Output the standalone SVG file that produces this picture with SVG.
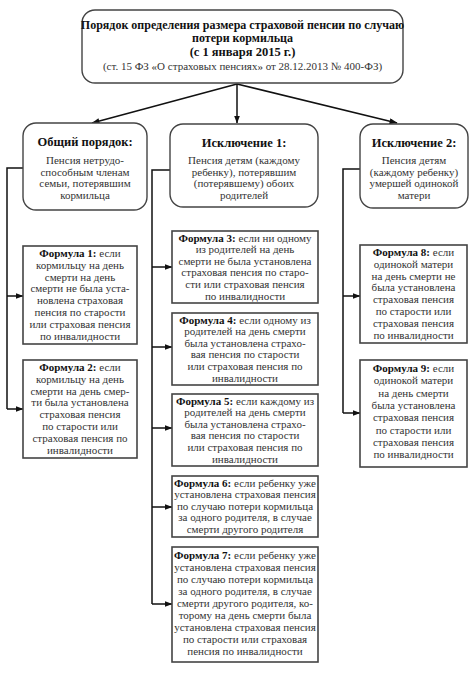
<svg xmlns="http://www.w3.org/2000/svg" width="474" height="673" viewBox="0 0 474 673">
<style>
text{font-family:"Liberation Serif","DejaVu Serif",serif;font-size:11px;fill:#333;text-anchor:middle}
.b{font-weight:bold;fill:#111}
.h{font-size:12.5px}
.rbox{fill:#fff;stroke:#444;stroke-width:1.4}
.box{fill:#fff;stroke:#444;stroke-width:1.6}
.ln{fill:none;stroke:#111;stroke-width:1.5}
</style>
<defs>
<marker id="ar" viewBox="0 0 8 6" refX="7.5" refY="3" markerWidth="8" markerHeight="6" markerUnits="userSpaceOnUse" orient="auto">
<path d="M0,0 L8,3 L0,6 Z" fill="#111"/>
</marker>
</defs>
<rect width="474" height="673" fill="#fff"/>
<g id="connectors">
<path class="ln" d="M237,84 L92,123" marker-end="url(#ar)"/>
<path class="ln" d="M237,84 L237,123" marker-end="url(#ar)"/>
<path class="ln" d="M237,84 L397,123" marker-end="url(#ar)"/>
<path class="ln" d="M23,168 H7 V409"/>
<path class="ln" d="M7,296 H23" marker-end="url(#ar)"/>
<path class="ln" d="M7,409 H23" marker-end="url(#ar)"/>
<path class="ln" d="M170,170 H152 V604"/>
<path class="ln" d="M152,267 H172" marker-end="url(#ar)"/>
<path class="ln" d="M152,347 H172" marker-end="url(#ar)"/>
<path class="ln" d="M152,428 H172" marker-end="url(#ar)"/>
<path class="ln" d="M152,507 H172" marker-end="url(#ar)"/>
<path class="ln" d="M152,604 H172" marker-end="url(#ar)"/>
<path class="ln" d="M360,169 H343 V413"/>
<path class="ln" d="M343,296 H360" marker-end="url(#ar)"/>
<path class="ln" d="M343,413 H360" marker-end="url(#ar)"/>
</g>
<g id="title">
<rect class="rbox" x="82" y="10" width="321" height="73" rx="13"/>
<text class="b" x="242.5" y="28.5" style="font-size:12px">Порядок определения размера страховой пенсии по случаю</text>
<text class="b" x="242.5" y="41.5" style="font-size:12px">потери кормильца</text>
<text class="b" x="242.5" y="55.5" style="font-size:12.5px">(с 1 января 2015 г.)</text>
<text x="242.5" y="70">(ст. 15 ФЗ «О страховых пенсиях» от 28.12.2013 № 400-ФЗ)</text>
</g>
<g id="general">
<rect class="rbox" x="23" y="123" width="124" height="87" rx="13"/>
<text class="b h" x="85" y="146">Общий порядок:</text>
<text x="85" y="164">Пенсия нетрудо-</text>
<text x="85" y="175.5">способным членам</text>
<text x="85" y="187">семьи, потерявшим</text>
<text x="85" y="198.5">кормильца</text>
</g>
<g id="exception1">
<rect class="rbox" x="170" y="124" width="148" height="83" rx="13"/>
<text class="b h" x="244" y="147">Исключение 1:</text>
<text x="244" y="164">Пенсия детям (каждому</text>
<text x="244" y="175.5">ребенку), потерявшим</text>
<text x="244" y="187">(потерявшему) обоих</text>
<text x="244" y="198.5">родителей</text>
</g>
<g id="exception2">
<rect class="rbox" x="360" y="124" width="108" height="84" rx="13"/>
<text class="b h" x="414" y="147">Исключение 2:</text>
<text x="414" y="164">Пенсия детям</text>
<text x="414" y="175.5">(каждому ребенку)</text>
<text x="414" y="187">умершей одинокой</text>
<text x="414" y="198.5">матери</text>
</g>
<g id="formula1">
<rect class="box" x="23" y="246" width="114" height="98"/>
<text x="80" y="257"><tspan class="b">Формула 1:</tspan> если</text>
<text x="80" y="268.8">кормильцу на день</text>
<text x="80" y="280.6">смерти на день</text>
<text x="80" y="292.4">смерти не была уста-</text>
<text x="80" y="304.2">новлена страховая</text>
<text x="80" y="316">пенсия по старости</text>
<text x="80" y="327.8">или страховая пенсия</text>
<text x="80" y="339.6">по инвалидности</text>
</g>
<g id="formula2">
<rect class="box" x="23" y="360" width="114" height="98"/>
<text x="80" y="371"><tspan class="b">Формула 2:</tspan> если</text>
<text x="80" y="382.8">кормильцу на день</text>
<text x="80" y="394.6">смерти на день смер-</text>
<text x="80" y="406.4">ти была установлена</text>
<text x="80" y="418.2">страховая пенсия</text>
<text x="80" y="430">по старости или</text>
<text x="80" y="441.8">страховая пенсия по</text>
<text x="80" y="453.6">инвалидности</text>
</g>
<g id="formula3">
<rect class="box" x="172" y="231" width="146" height="72"/>
<text x="245" y="241.5"><tspan class="b">Формула 3:</tspan> если ни одному</text>
<text x="245" y="253.1">из родителей на день</text>
<text x="245" y="264.7">смерти не была установлена</text>
<text x="245" y="276.3">страховая пенсия по старо-</text>
<text x="245" y="287.9">сти или страховая пенсия</text>
<text x="245" y="299.5">по инвалидности</text>
</g>
<g id="formula4">
<rect class="box" x="172" y="313" width="146" height="72"/>
<text x="245" y="323.5"><tspan class="b">Формула 4:</tspan> если одному из</text>
<text x="245" y="335.1">родителей на день смерти</text>
<text x="245" y="346.7">была установлена страхо-</text>
<text x="245" y="358.3">вая пенсия по старости</text>
<text x="245" y="369.9">или страховая пенсия по</text>
<text x="245" y="381.5">инвалидности</text>
</g>
<g id="formula5">
<rect class="box" x="172" y="394" width="146" height="72"/>
<text x="245" y="404.5"><tspan class="b">Формула 5:</tspan> если каждому из</text>
<text x="245" y="416.1">родителей на день смерти</text>
<text x="245" y="427.7">была установлена страхо-</text>
<text x="245" y="439.3">вая пенсия по старости</text>
<text x="245" y="450.9">или страховая пенсия по</text>
<text x="245" y="462.5">инвалидности</text>
</g>
<g id="formula6">
<rect class="box" x="172" y="476" width="146" height="61"/>
<text x="245" y="486.5"><tspan class="b">Формула 6:</tspan> если ребенку уже</text>
<text x="245" y="498.1">установлена страховая пенсия</text>
<text x="245" y="509.7">по случаю потери кормильца</text>
<text x="245" y="521.3">за одного родителя, в случае</text>
<text x="245" y="532.9">смерти другого родителя</text>
</g>
<g id="formula7">
<rect class="box" x="172" y="547" width="146" height="115"/>
<text x="245" y="559"><tspan class="b">Формула 7:</tspan> если ребенку уже</text>
<text x="245" y="571">установлена страховая пенсия</text>
<text x="245" y="583">по случаю потери кормильца</text>
<text x="245" y="595">за одного родителя, в случае</text>
<text x="245" y="607">смерти другого родителя, ко-</text>
<text x="245" y="619">торому на день смерти была</text>
<text x="245" y="631">установлена страховая пенсия</text>
<text x="245" y="643">по старости или страховая</text>
<text x="245" y="655">пенсия по инвалидности</text>
</g>
<g id="formula8">
<rect class="box" x="360" y="245" width="107" height="98"/>
<text x="413.5" y="256"><tspan class="b">Формула 8:</tspan> если</text>
<text x="413.5" y="267.8">одинокой матери</text>
<text x="413.5" y="279.6">на день смерти не</text>
<text x="413.5" y="291.4">была установлена</text>
<text x="413.5" y="303.2">страховая пенсия</text>
<text x="413.5" y="315">по старости или</text>
<text x="413.5" y="326.8">страховая пенсия</text>
<text x="413.5" y="338.6">по инвалидности</text>
</g>
<g id="formula9">
<rect class="box" x="360" y="360" width="107" height="107"/>
<text x="413.5" y="372"><tspan class="b">Формула 9:</tspan> если</text>
<text x="413.5" y="384.3">одинокой матери</text>
<text x="413.5" y="396.6">на день смерти</text>
<text x="413.5" y="408.9">была установлена</text>
<text x="413.5" y="421.2">страховая пенсия</text>
<text x="413.5" y="433.5">по старости или</text>
<text x="413.5" y="445.8">страховая пенсия</text>
<text x="413.5" y="458.1">по инвалидности</text>
</g>
</svg>
